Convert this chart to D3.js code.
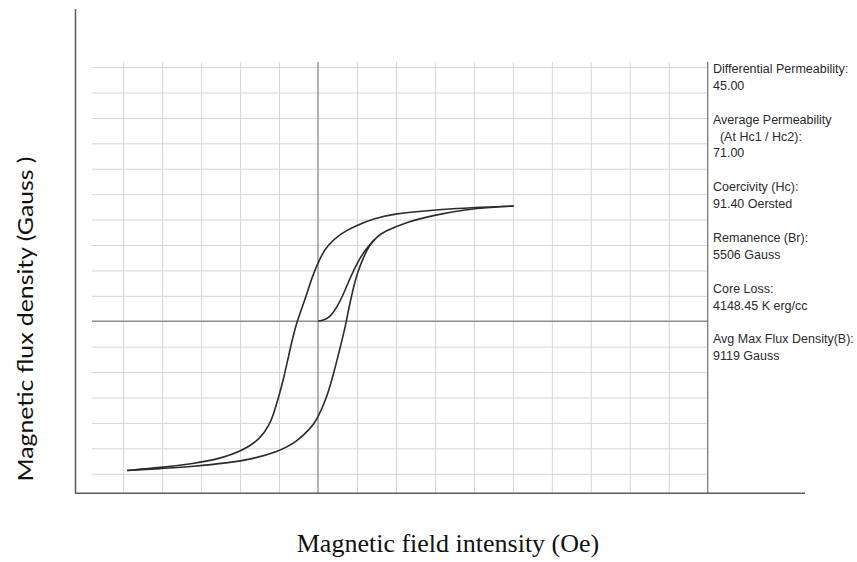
<!DOCTYPE html>
<html lang="en">
<head>
    <meta charset="utf-8">
    <script src="https://d3js.org/d3.v7.min.js"></script>
    <style>
        body { margin: 0; background: #fff; }
        .grid line { stroke: #d6d6d6; stroke-width: 1px; }
        .grid path { display: none; }
        .stats text {
            font-family: "Liberation Sans", Arial, sans-serif;
            font-size: 12.5px;
            fill: #2a2a2a;
        }
    </style>
</head>
<body>
    <div id="chart"></div>

    <script>
        // hysteresis loop, H in Oe, B in Gauss
        var descH = [753, 663, 534, 407, 300, 215, 150, 86, 38, 9, -23, -42, -62, -80, -95, -113, -132, -152, -171, -188, -222, -287, -377, -479, -606, -735];
        var descB = [9060, 9000, 8880, 8680, 8480, 8080, 7560, 6900, 6000, 5060, 3480, 2200, 1040, 0, -1100, -2700, -4500, -6000, -7300, -8200, -9240, -10160, -10820, -11200, -11520, -11740];

        var ascH = [-735, -606, -479, -350, -248, -158, -81, -30, -5, 35, 60, 86, 105, 117, 131, 150, 176, 195, 225, 252, 342, 444, 573, 663, 753];
        var ascB = [-11740, -11600, -11420, -11160, -10820, -10300, -9500, -8440, -7800, -5960, -4120, -2020, -440, 860, 2180, 3760, 5060, 5900, 6600, 7040, 7820, 8340, 8800, 8960, 9060];

        var initH = [0, 22, 47, 74, 99, 125, 150, 176, 203, 218];
        var initB = [0, 80, 340, 1120, 2180, 3480, 4540, 5460, 6100, 6440];

        var hTicks = d3.range(-750, 1501, 150);
        var bTicks = d3.range(-12000, 20001, 2000);

        var statLines = [
            ["Differential Permeability:", "45.00"],
            ["Average Permeability", "  (At Hc1 / Hc2):", "71.00"],
            ["Coercivity (Hc):", "91.40 Oersted"],
            ["Remanence (Br):", "5506 Gauss"],
            ["Core Loss:", "4148.45 K erg/cc"],
            ["Avg Max Flux Density(B):", "9119 Gauss"]
        ];

        var W = 857, H = 562;

        var svg = d3.select("#chart").append("svg")
            .attr("width", W)
            .attr("height", H);

        var x = d3.scaleLinear().domain([-870, 1500]).range([92, 707.7]);
        var y = d3.scaleLinear().domain([-13540, 20400]).range([493.3, 62]);

        // vertical grid
        svg.append("g")
            .attr("class", "grid")
            .attr("transform", "translate(0," + y(-13540) + ")")
            .call(d3.axisBottom(x).tickValues(hTicks.filter(function(d) { return d !== 0 && d !== 1500; }))
                .tickSize(-(y(-13540) - y(20400))).tickFormat(""));

        // horizontal grid
        svg.append("g")
            .attr("class", "grid")
            .attr("transform", "translate(" + x(-870) + ",0)")
            .call(d3.axisLeft(y).tickValues(bTicks.filter(function(d) { return d !== 0; }))
                .tickSize(-(x(1500) - x(-870))).tickFormat(""));

        // zero axes
        svg.append("line")
            .attr("x1", x(-870)).attr("x2", x(1500))
            .attr("y1", y(0)).attr("y2", y(0))
            .attr("stroke", "#8c8c8c").attr("stroke-width", 1.3);
        svg.append("line")
            .attr("x1", x(0)).attr("x2", x(0))
            .attr("y1", y(20400)).attr("y2", y(-13540))
            .attr("stroke", "#8c8c8c").attr("stroke-width", 1.3);

        // right border of the plot
        svg.append("line")
            .attr("x1", x(1500)).attr("x2", x(1500))
            .attr("y1", y(20400)).attr("y2", y(-13540))
            .attr("stroke", "#7a7a7a").attr("stroke-width", 1.3);

        // outer frame: left and bottom
        svg.append("line")
            .attr("x1", 75.5).attr("x2", 75.5)
            .attr("y1", 9).attr("y2", y(-13540))
            .attr("stroke", "#5a5a5a").attr("stroke-width", 1.5);
        svg.append("line")
            .attr("x1", 75).attr("x2", 805)
            .attr("y1", y(-13540)).attr("y2", y(-13540))
            .attr("stroke", "#5a5a5a").attr("stroke-width", 1.5);

        var line = d3.line()
            .x(function(d) { return x(d[0]); })
            .y(function(d) { return y(d[1]); })
            .curve(d3.curveBasis);

        var curves = [
            d3.zip(descH, descB),
            d3.zip(ascH, ascB),
            d3.zip(initH, initB)
        ];

        svg.append("g")
            .selectAll("path")
            .data(curves)
            .enter().append("path")
            .attr("d", line)
            .attr("fill", "none")
            .attr("stroke", "#2b2b2b")
            .attr("stroke-width", 1.6);

        // stats panel
        var stats = svg.append("g").attr("class", "stats");
        var blockY = [73, 124, 191, 242, 293, 343];
        statLines.forEach(function(block, i) {
            block.forEach(function(t, j) {
                stats.append("text")
                    .attr("x", 713)
                    .attr("y", blockY[i] + j * 16.5)
                    .attr("xml:space", "preserve")
                    .style("white-space", "pre")
                    .text(t);
            });
        });

        // axis titles
        svg.append("text")
            .attr("transform", "translate(33,319) rotate(-90)")
            .attr("text-anchor", "middle")
            .attr("textLength", 325)
            .attr("lengthAdjust", "spacingAndGlyphs")
            .style("font-family", "Lato, sans-serif")
            .style("font-size", "22px")
            .style("fill", "#111")
            .text("Magnetic flux density (Gauss )");

        svg.append("text")
            .attr("x", 448)
            .attr("y", 552)
            .attr("text-anchor", "middle")
            .style("font-family", "'Liberation Serif', 'Times New Roman', serif")
            .style("font-size", "26px")
            .style("fill", "#111")
            .text("Magnetic field intensity (Oe)");
    </script>
</body>
</html>
